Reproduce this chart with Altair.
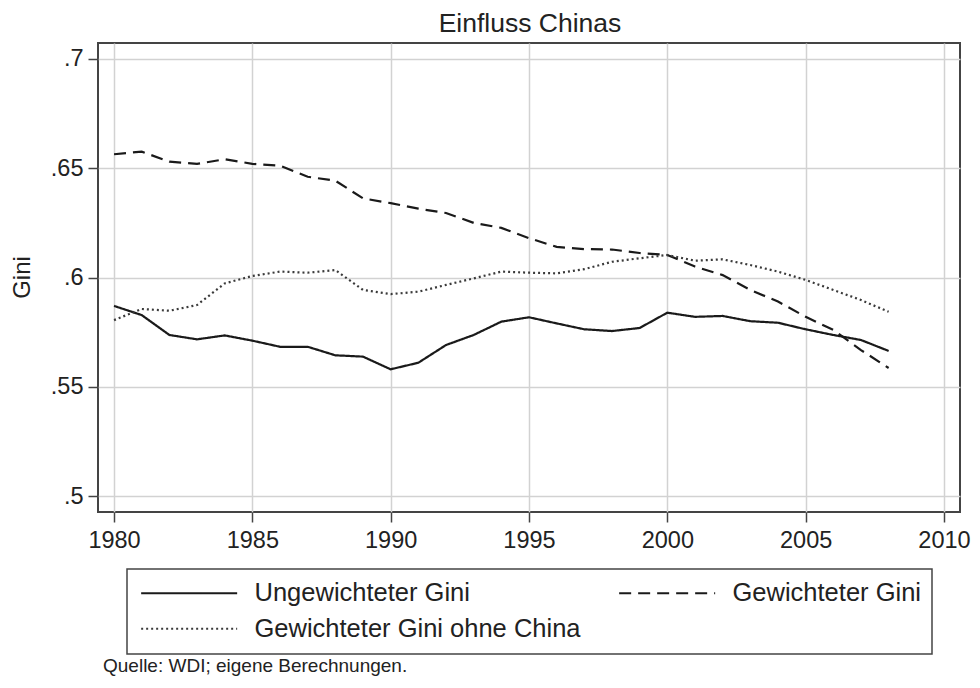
import altair as alt
import pandas as pd

YEARS = list(range(1980, 2009))
UNGEWICHTET = [0.5870, 0.5828, 0.5737, 0.5717, 0.5735, 0.5711, 0.5683, 0.5683, 0.5644, 0.5638,
               0.5580, 0.5610, 0.5691, 0.5737, 0.5798, 0.5818, 0.5790, 0.5763, 0.5755, 0.5769,
               0.5839, 0.5820, 0.5824, 0.5800, 0.5793, 0.5763, 0.5737, 0.5714, 0.5664]
GEWICHTET = [0.6564, 0.6576, 0.6530, 0.6520, 0.6541, 0.6520, 0.6512, 0.6461, 0.6443, 0.6362,
             0.6340, 0.6315, 0.6295, 0.6250, 0.6227, 0.6180, 0.6140, 0.6130, 0.6128, 0.6112,
             0.6103, 0.6050, 0.6011, 0.5943, 0.5890, 0.5820, 0.5760, 0.5668, 0.5586]
OHNE_CHINA = [0.5805, 0.5856, 0.5848, 0.5874, 0.5973, 0.6007, 0.6027, 0.6022, 0.6034, 0.5943,
              0.5924, 0.5935, 0.5966, 0.5996, 0.6027, 0.6022, 0.6019, 0.6038, 0.6072, 0.6088,
              0.6103, 0.6077, 0.6083, 0.6057, 0.6027, 0.5989, 0.5943, 0.5897, 0.5843]
SERIES = ["Ungewichteter Gini", "Gewichteter Gini", "Gewichteter Gini ohne China"]
X_TICKS = [1980, 1985, 1990, 1995, 2000, 2005, 2010]
Y_TICKS = [0.5, 0.55, 0.6, 0.65, 0.7]
TITLE = "Einfluss Chinas"
Y_TITLE = "Gini"
SOURCE = "Quelle: WDI; eigene Berechnungen."

rows = []
for name, vals in zip(SERIES, [UNGEWICHTET, GEWICHTET, OHNE_CHINA]):
    for y, v in zip(YEARS, vals):
        rows.append({"Jahr": y, "Gini": v, "Reihe": name})
df = pd.DataFrame(rows)

FONT = "Liberation Sans, Arial, Helvetica, sans-serif"

legend_kw = dict(
    title=None,
    orient="none",
    legendX=29,
    legendY=526,
    columns=2,
    direction="horizontal",
    symbolType="M-1,0H9",
    symbolSize=368.64,
    symbolStrokeWidth=2,
    symbolFillColor="transparent",
    labelOffset=91,
    labelFontSize=25.5,
    labelFont=FONT,
    labelColor="#222222",
    labelLimit=500,
    columnPadding=34,
    rowPadding=9,
    padding=11,
    strokeColor="#444444",
)

lines = alt.Chart(df).mark_line(strokeWidth=2.2).encode(
    x=alt.X("Jahr:Q",
            scale=alt.Scale(domain=[1979.42, 2010.58], nice=False, zero=False),
            axis=alt.Axis(values=X_TICKS, format="d", title=None)),
    y=alt.Y("Gini:Q",
            scale=alt.Scale(domain=[0.4927, 0.7073], nice=False, zero=False),
            axis=alt.Axis(values=Y_TICKS, title=Y_TITLE,
                          labelExpr="replace(format(datum.value, '.2~f'), '0.', '.')",
                          titleAngle=270, titleX=-76, titleY=234,
                          titleAlign="center", titleBaseline="middle")),
    color=alt.Color("Reihe:N",
                    scale=alt.Scale(domain=SERIES, range=["#1a1a1a", "#1a1a1a", "#3a3a3a"]),
                    legend=alt.Legend(**legend_kw)),
    strokeDash=alt.StrokeDash("Reihe:N",
                              scale=alt.Scale(domain=SERIES, range=[[1, 0], [12, 7], [2, 3]]),
                              legend=alt.Legend(**legend_kw)),
)

title = alt.Chart(pd.DataFrame({"t": [TITLE]})).mark_text(
    align="center", baseline="alphabetic", fontSize=26.5, font=FONT, color="#222222"
).encode(x=alt.value(432), y=alt.value(-11), text="t:N")

source = alt.Chart(pd.DataFrame({"t": [SOURCE]})).mark_text(
    align="left", baseline="alphabetic", fontSize=19, font=FONT, color="#222222"
).encode(x=alt.value(5), y=alt.value(629), text="t:N")

chart = alt.layer(lines, title, source).properties(
    width=862,
    height=469,
    padding={"left": 90, "top": 35, "right": 12, "bottom": 168},
    autosize=alt.AutoSizeParams(type="none"),
).configure_view(
    stroke="#444444", strokeWidth=2
).configure_axis(
    grid=True, gridColor="#d2d2d2", gridWidth=1.5,
    domain=False,
    tickColor="#444444", tickWidth=1.5, tickSize=10,
    labelFont=FONT, labelFontSize=23.5, labelColor="#222222",
    titleFont=FONT, titleFontSize=24, titleFontWeight="normal", titleColor="#222222",
).configure_axisX(
    labelPadding=6
).configure_axisY(
    labelPadding=5
).configure_legend(
    strokeWidth=1.5
)

chart.save("out.html", embed_options={"renderer": "svg", "actions": False})
